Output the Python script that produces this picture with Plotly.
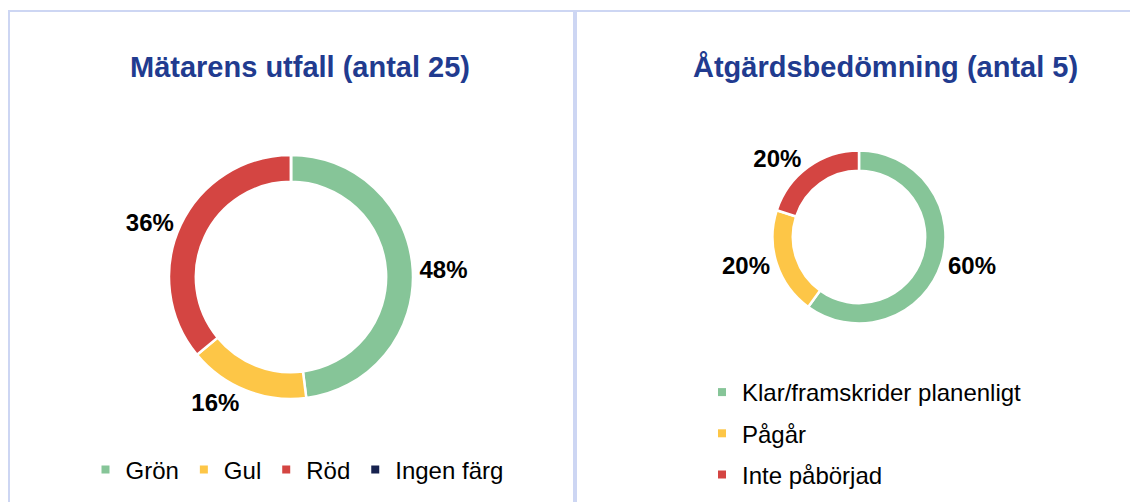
import plotly.graph_objects as go

# left donut: utfall per mätare
outcome_labels = ["Grön", "Gul", "Röd", "Ingen färg"]
outcome_values = [12, 4, 9, 0]
outcome_colors = ["#86C598", "#FDC647", "#D44542", "#17224F"]

# right donut: åtgärdsbedömning
action_labels = ["Klar/framskrider planenligt", "Pågår", "Inte påbörjad"]
action_values = [3, 1, 1]
action_colors = ["#86C598", "#FDC647", "#D44542"]

titles = ["Mätarens utfall (antal 25)", "Åtgärdsbedömning (antal 5)"]

FONT = "Liberation Sans, Arial, sans-serif"
TITLE_COLOR = "#213B8F"
FRAME = "#CDD6F3"

# the page puts the figure 8px in from the window corner
OFF = 8
W, H = 1138 - OFF, 502 - OFF


def pct_text(values):
    total = sum(values)
    return [f"{round(100 * v / total)}%" if v else "" for v in values]


def fx(x):
    return (x - OFF) / W


def fy(y):
    # y given in window pixels from the top
    return 1 - (y - OFF) / H


fig = go.Figure()

fig.add_trace(go.Pie(
    labels=outcome_labels, values=outcome_values, text=pct_text(outcome_values),
    textinfo="text", textposition="outside", sort=False, direction="clockwise",
    hole=0.78, showlegend=False,
    marker=dict(colors=outcome_colors, line=dict(color="white", width=2.5)),
    textfont=dict(family=FONT, size=24, color="black", weight="bold"),
    domain=dict(x=[fx(169), fx(413)], y=[fy(399), fy(155)]),
))

fig.add_trace(go.Pie(
    labels=action_labels, values=action_values, text=pct_text(action_values),
    textinfo="text", textposition="outside", sort=False, direction="clockwise",
    hole=0.765, showlegend=False,
    marker=dict(colors=action_colors, line=dict(color="white", width=2.5)),
    textfont=dict(family=FONT, size=24, color="black", weight="bold"),
    domain=dict(x=[fx(772.5), fx(945.5)], y=[fy(323.5), fy(150.5)]),
))

# legend entries (small square markers like the original)
for lab, col in zip(outcome_labels, outcome_colors):
    fig.add_trace(go.Scatter(x=[None], y=[None], mode="markers", name=lab,
                             marker=dict(symbol="square", size=8, color=col),
                             legend="legend"))
for lab, col in zip(action_labels, action_colors):
    fig.add_trace(go.Scatter(x=[None], y=[None], mode="markers", name=lab,
                             marker=dict(symbol="square", size=8, color=col),
                             legend="legend2", legendgroup=lab))

for txt, xc in zip(titles, [300, 885]):
    fig.add_annotation(text=f"<b>{txt}</b>", x=fx(xc), y=fy(67),
                       xref="paper", yref="paper", xanchor="center", yanchor="middle",
                       showarrow=False,
                       font=dict(family=FONT, size=29, color=TITLE_COLOR))

# panel frame
fig.add_shape(type="line", xref="paper", yref="paper", x0=fx(8), x1=1, y0=fy(11), y1=fy(11),
              line=dict(color=FRAME, width=2))
fig.add_shape(type="line", xref="paper", yref="paper", x0=fx(9), x1=fx(9), y0=0, y1=fy(11),
              line=dict(color=FRAME, width=2))
fig.add_shape(type="line", xref="paper", yref="paper", x0=fx(575), x1=fx(575), y0=0, y1=fy(11),
              line=dict(color=FRAME, width=4))

fig.update_layout(
    width=W, height=H,
    margin=dict(l=0, r=0, t=0, b=0),
    paper_bgcolor="white", plot_bgcolor="white",
    xaxis=dict(visible=False), yaxis=dict(visible=False),
    legend=dict(orientation="h", x=fx(297), xanchor="center", y=fy(470), yanchor="middle",
                font=dict(family=FONT, size=24, color="black"), bgcolor="rgba(0,0,0,0)"),
    legend2=dict(orientation="v", x=fx(702), xanchor="left", y=fy(370), yanchor="top",
                 tracegroupgap=7,
                 font=dict(family=FONT, size=24, color="black"), bgcolor="rgba(0,0,0,0)"),
)

fig.write_html("out.html")
